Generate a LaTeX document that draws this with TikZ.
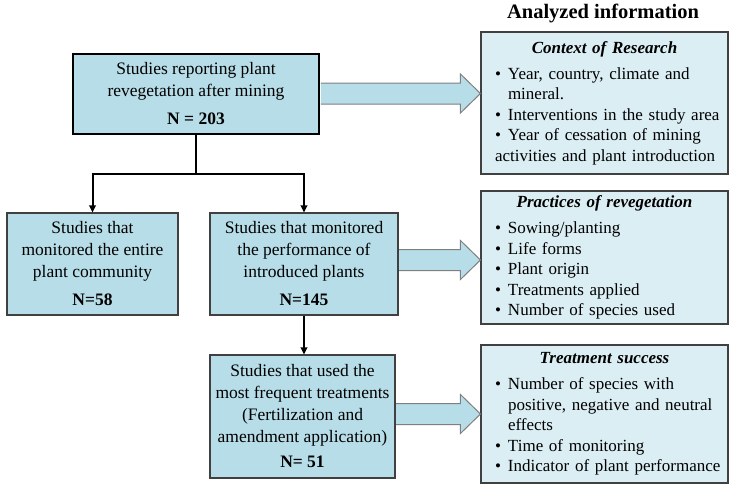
\documentclass[tikz,border=0pt]{standalone}
\usepackage{fontspec}
\setmainfont{Liberation Serif}
\usetikzlibrary{arrows.meta,calc}
\definecolor{boxblue}{HTML}{B7DDE8}
\definecolor{lightblue}{HTML}{DBEEF4}
\definecolor{edgegray}{HTML}{404040}
\definecolor{arrowgray}{HTML}{7F7F7F}
\hfuzz=50pt
\newcommand\bl[1]{\par\noindent\hspace*{12pt}\makebox[13pt][l]{\textbullet}\mbox{#1}}
\newcommand\cl[2][25pt]{\par\noindent\hspace*{#1}\mbox{#2}}
\newcommand\blockarrow[3]{%
  \coordinate (#3s) at (#1.east |- #3);
  \coordinate (#3t) at (#2.west |- #3);
  \draw[barrow] ($(#3s)+(0.6,-10.5)$) -- ($(#3t)+(-20,-10.5)$) -- ($(#3t)+(-20,-19.5)$)
    -- (#3t) -- ($(#3t)+(-20,19.5)$) -- ($(#3t)+(-20,10.5)$) -- ($(#3s)+(0.6,10.5)$);}
\begin{document}
\begin{tikzpicture}[x=1pt,y=-1pt,
  mainbox/.style={draw=edgegray, line width=1.1pt, fill=boxblue, inner sep=0pt, align=center,
    font=\fontsize{17.5}{22}\selectfont},
  infobox/.style={draw=edgegray, line width=1.1pt, fill=lightblue, text width=243pt,
    inner xsep=2pt, inner ysep=0pt, align=left, font=\fontsize{17}{20.5}\selectfont},
  conn/.style={line width=2pt, -{Triangle[length=7pt,width=6.5pt]}},
  barrow/.style={fill=boxblue, draw=arrowgray, line width=1pt, line join=miter},
  titletext/.style={font=\fontsize{20.5}{24}\selectfont\bfseries}]
\useasboundingbox (0,0) rectangle (733,487);

\node[titletext] (title) at (603,13) {Analyzed information};

\node[mainbox, draw=black, line width=2.4pt, minimum width=246pt, minimum height=80pt] (top) at (196,94)
  {Studies reporting plant\\revegetation after mining\\[6pt]\textbf{N = 203}};
\node[mainbox, minimum width=171pt, minimum height=102pt] (left) at (92.5,264)
  {Studies that\\monitored the entire\\plant community\\[6pt]\textbf{N=58}};
\node[mainbox, minimum width=188pt, minimum height=102pt] (mid) at (304,264)
  {Studies that monitored\\the performance of\\introduced plants\\[6pt]\textbf{N=145}};
\node[mainbox, minimum width=185pt, minimum height=123pt] (bot) at (302.5,416.5)
  {Studies that used the\\most frequent treatments\\(Fertilization and\\amendment application)\\[3pt]\textbf{N= 51}};

\node[infobox, minimum height=142pt] (ctx) at (604.5,103)
  {{\centering\bfseries\itshape Context of Research\par}\vspace{5.5pt}%
   \bl{Year, country, climate and}\cl{mineral.}\bl{Interventions in the study area}%
   \bl{Year of cessation of mining}\cl[12pt]{activities and plant introduction}};
\node[infobox, minimum height=133pt] (prac) at (604.5,257.5)
  {{\centering\bfseries\itshape Practices of revegetation\par}\vspace{5.5pt}%
   \bl{Sowing/planting}\bl{Life forms}\bl{Plant origin}\bl{Treatments applied}%
   \bl{Number of species used}};
\node[infobox, minimum height=138pt] (succ) at (604.5,414)
  {{\centering\bfseries\itshape Treatment success\par}\vspace{5.5pt}%
   \bl{Number of species with}\cl{positive, negative and neutral}\cl{effects}%
   \bl{Time of monitoring}\bl{Indicator of plant performance}};

\coordinate (ya) at (0,93.5);
\coordinate (yb) at (0,260);
\coordinate (yc) at (0,414);
\blockarrow{top}{ctx}{ya}
\blockarrow{mid}{prac}{yb}
\blockarrow{bot}{succ}{yc}

\coordinate (split) at ($(top.south)+(0,39)$);
\draw[line width=2pt] (top.south) -- (split);
\draw[conn] (split) -| (left.north);
\draw[conn] (split) -| (mid.north);
\draw[conn] (mid.south) -- (mid.south |- bot.north);
\end{tikzpicture}
\end{document}
